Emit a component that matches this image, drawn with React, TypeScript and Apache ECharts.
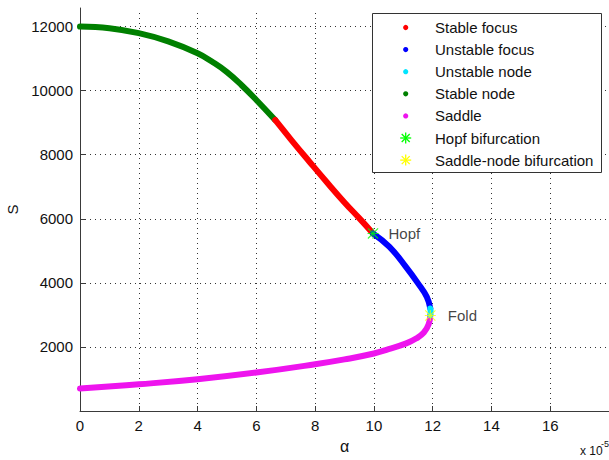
import React, { useEffect, useRef } from "react";
import * as echarts from "echarts";

// ---- data (alpha in units of 1e-5, S) ----
const stableNodeX = [0, 1, 2, 3, 4, 4.5, 5, 5.5, 6, 6.64];
const stableNodeY = [12000, 11950, 11794, 11540, 11169, 10900, 10580, 10170, 9709, 9084];
const stableFocusX = [6.64, 7.2, 7.8, 8.4, 9.0, 9.5, 9.97];
const stableFocusY = [9084, 8450, 7790, 7140, 6510, 6020, 5544];
const unstableFocusX = [9.97, 10.53, 11.09, 11.49, 11.8, 11.92];
const unstableFocusY = [5544, 5125, 4500, 4000, 3563, 3200];
const unstableNodeX = [11.92, 11.93, 11.92];
const unstableNodeY = [3200, 3100, 2990];
const saddleX = [11.92, 11.86, 11.7, 11.45, 11.1, 10.5, 10, 9, 8, 6, 4, 2, 0];
const saddleY = [2990, 2700, 2450, 2270, 2110, 1930, 1794, 1610, 1459, 1200, 991, 834, 700];
const hopfPoint = [9.97, 5544];
const foldPoint = [11.92, 2980];

const legendNames = [
  "Stable focus",
  "Unstable focus",
  "Unstable node",
  "Stable node",
  "Saddle",
  "Hopf bifurcation",
  "Saddle-node bifurcation",
];
const legendColors = ["#ff0000", "#0000ff", "#00e5ff", "#008000", "#ee14ee", "#00ff00", "#ffff00"];
const legendIsStar = [false, false, false, false, false, true, true];

const FONT = "'Liberation Sans', Arial, Helvetica, sans-serif";

const zip = (xs: number[], ys: number[]) => xs.map((x, i) => [x, ys[i]]);

// asterisk-like star, filled thin spokes
const STAR =
  "path://M5 0 L6 0 L6 11 L5 11 Z M0 5 L11 5 L11 6 L0 6 Z M0 0.8 L0.8 0 L11 10.2 L10.2 11 Z M10.2 0 L11 0.8 L0.8 11 L0 10.2 Z";

function buildLegend() {
  const els: any[] = [
    {
      type: "rect",
      z: 100,
      silent: true,
      shape: { x: 372.5, y: 13.5, width: 229, height: 159 },
      style: { fill: "#ffffff", stroke: "#333333", lineWidth: 1 },
    },
  ];
  legendNames.forEach((name, i) => {
    const cy = 27.5 + 22.1 * i;
    const cx = 405.7;
    const color = legendColors[i];
    if (legendIsStar[i]) {
      const r = 5.5;
      const d = 4;
      const segs = [
        [cx - r, cy, cx + r, cy],
        [cx, cy - r, cx, cy + r],
        [cx - d, cy - d, cx + d, cy + d],
        [cx - d, cy + d, cx + d, cy - d],
      ];
      segs.forEach((s) =>
        els.push({
          type: "line",
          z: 101,
          silent: true,
          shape: { x1: s[0], y1: s[1], x2: s[2], y2: s[3] },
          style: { stroke: color, lineWidth: 1.3 },
        })
      );
    } else {
      els.push({
        type: "circle",
        z: 101,
        silent: true,
        shape: { cx, cy, r: 2.6 },
        style: { fill: color },
      });
    }
    els.push({
      type: "text",
      z: 101,
      silent: true,
      x: 435,
      y: cy,
      style: {
        text: name,
        font: `15px ${FONT}`,
        fill: "#111111",
        align: "left",
        verticalAlign: "middle",
      },
    });
  });
  return els;
}

export default function App() {
  const ref = useRef<HTMLDivElement>(null);

  useEffect(() => {
    if (!ref.current) return;
    const chart = echarts.init(ref.current, undefined, { renderer: "svg" });

    const lineSeries = (name: string, color: string, data: number[][]) => ({
      name,
      type: "line",
      data,
      color,
      showSymbol: false,
      symbol: "none",
      smooth: 0.45,
      lineStyle: { width: 6, color, cap: "round", join: "round" },
      emphasis: { disabled: true },
      silent: true,
    });

    const starSeries = (name: string, color: string, pt: number[], label: string, dist: number) => ({
      name,
      type: "scatter",
      data: [pt],
      color,
      symbol: STAR,
      symbolSize: 11,
      itemStyle: { color },
      z: 5,
      silent: true,
      label: {
        show: true,
        position: "right",
        distance: dist,
        formatter: label,
        color: "#111",
        fontSize: 15,
        fontFamily: FONT,
      },
    });

    const gridLine = { color: "#333333", width: 1, type: [1, 4] };

    chart.setOption({
      animation: false,
      backgroundColor: "#ffffff",
      textStyle: { fontFamily: FONT },
      grid: { left: 80, right: 0, top: 8, bottom: 49, containLabel: false, outerBoundsMode: "none" },
      xAxis: {
        type: "value",
        min: 0,
        max: 18,
        interval: 2,
        name: "α",
        nameLocation: "middle",
        nameGap: 27,
        nameTextStyle: { fontSize: 16, color: "#111", fontFamily: FONT },
        axisLine: { show: true, onZero: false, lineStyle: { color: "#3a3a3a", width: 1 } },
        axisTick: { show: true, inside: true, length: 5, lineStyle: { color: "#3a3a3a" } },
        axisLabel: {
          show: true,
          margin: 7,
          fontSize: 15,
          color: "#111",
          fontFamily: FONT,
          showMaxLabel: false,
        },
        splitLine: { show: true, lineStyle: gridLine },
      },
      yAxis: {
        type: "value",
        min: 0,
        max: 12580,
        interval: 2000,
        name: "S",
        nameLocation: "middle",
        nameGap: 56,
        nameTextStyle: { fontSize: 15, color: "#111", fontFamily: FONT },
        axisLine: { show: true, onZero: false, lineStyle: { color: "#3a3a3a", width: 1 } },
        axisTick: { show: true, inside: true, length: 5, lineStyle: { color: "#3a3a3a" } },
        axisLabel: {
          show: true,
          margin: 7,
          fontSize: 15,
          color: "#111",
          fontFamily: FONT,
          showMinLabel: false,
          showMaxLabel: false,
          formatter: (v: number) => String(v),
        },
        splitLine: { show: true, lineStyle: gridLine },
      },
      graphic: [
        // hide the grid lines drawn at the (non-tick) plot limits
        {
          type: "rect",
          z: 50,
          silent: true,
          shape: { x: 81, y: 0, width: 528, height: 8.9 },
          style: { fill: "#ffffff" },
        },
        {
          type: "rect",
          z: 50,
          silent: true,
          shape: { x: 607.4, y: 0, width: 2, height: 410 },
          style: { fill: "#ffffff" },
        },
        ...buildLegend(),
        {
          type: "text",
          left: 580,
          top: 445,
          silent: true,
          style: { text: "x 10", fill: "#111", font: `12px ${FONT}` },
        },
        {
          type: "text",
          left: 601,
          top: 439,
          silent: true,
          style: { text: "-5", fill: "#111", font: `9px ${FONT}` },
        },
      ],
      series: [
        lineSeries("Stable node", "#008000", zip(stableNodeX, stableNodeY)),
        lineSeries("Stable focus", "#ff0000", zip(stableFocusX, stableFocusY)),
        lineSeries("Unstable focus", "#0000ff", zip(unstableFocusX, unstableFocusY)),
        lineSeries("Saddle", "#ee14ee", zip(saddleX, saddleY)),
        lineSeries("Unstable node", "#00e5ff", zip(unstableNodeX, unstableNodeY)),
        starSeries("Hopf bifurcation", "#00ff00", hopfPoint, "Hopf", 10),
        starSeries("Saddle-node bifurcation", "#ffff00", foldPoint, "Fold", 12),
      ],
    });

    return () => chart.dispose();
  }, []);

  return (
    <div
      ref={ref}
      style={{ position: "fixed", left: 0, top: 0, width: 609, height: 460, background: "#fff" }}
    />
  );
}
